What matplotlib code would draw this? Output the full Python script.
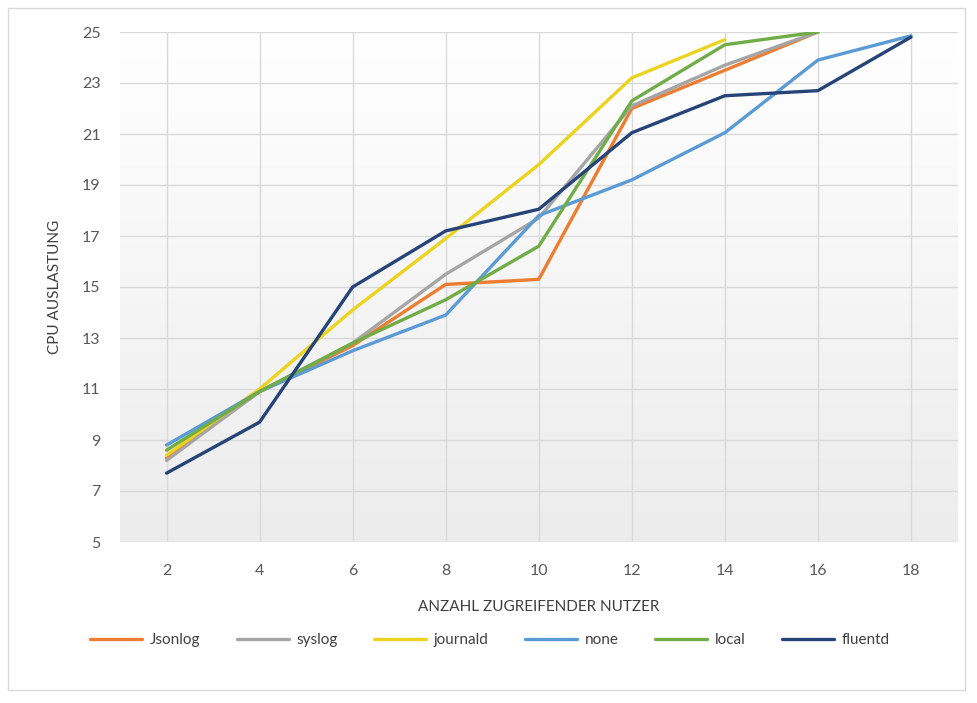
import numpy as np
import matplotlib
matplotlib.use("Agg")
import matplotlib.pyplot as plt
from matplotlib.patches import Rectangle

# Number of accessing users (categories on the x axis)
users = ["2", "4", "6", "8", "10", "12", "14", "16", "18"]

# CPU load per logging driver
jsonlog = [8.3, 10.9, 12.7, 15.1, 15.3, 22.0, 23.5, 25.0]
syslog = [8.2, 10.9, 12.8, 15.5, 17.7, 22.1, 23.7, 25.0]
journald = [8.4, 11.0, 14.1, 16.9, 19.8, 23.2, 24.7]
none = [8.8, 10.9, 12.5, 13.9, 17.8, 19.2, 21.05, 23.9, 24.85]
local = [8.6, 10.9, 12.8, 14.5, 16.6, 22.3, 24.5, 25.0]
fluentd = [7.7, 9.7, 15.0, 17.2, 18.05, 21.05, 22.5, 22.7, 24.8]

series_names = ["Jsonlog", "syslog", "journald", "none", "local", "fluentd"]
series_values = [jsonlog, syslog, journald, none, local, fluentd]
series_colors = ["#ED7D31", "#A5A5A5", "#EBD31F", "#5B9BD5", "#70AD47", "#264478"]

y_ticks = list(range(5, 26, 2))

plt.rcParams["font.family"] = ["Lato", "DejaVu Sans"]

W, H = 977, 703
fig = plt.figure(figsize=(W / 100, H / 100), dpi=100)
fig.patch.set_facecolor("white")

# outer chart border
fig.patches.append(Rectangle((8 / W, 1 - 690 / H), (965 - 8) / W, (690 - 8) / H,
                             transform=fig.transFigure, fill=False,
                             edgecolor="#D9D9D9", linewidth=1.0))

left, right, top, bottom = 120, 957.5, 32, 542
ax = fig.add_axes([left / W, 1 - bottom / H, (right - left) / W, (bottom - top) / H])

ax.set_xlim(-0.5, len(users) - 0.5)
ax.set_ylim(5, 25)

# vertical gradient fill of the plot area: white at the top, light grey at the bottom
grad = np.linspace(0, 1, 256).reshape(-1, 1)
top_c = np.array([1.0, 1.0, 1.0])
bot_c = np.array([0.925, 0.925, 0.925])
img = top_c + (bot_c - top_c) * grad
ax.imshow(img[:, None, :].repeat(2, axis=1), extent=[-0.5, len(users) - 0.5, 5, 25],
          origin="upper", aspect="auto", zorder=0, interpolation="bilinear")

# gridlines
for y in y_ticks:
    ax.axhline(y, color="#D9D9D9", linewidth=1.0, zorder=1)
for i in range(len(users)):
    ax.axvline(i, color="#D9D9D9", linewidth=1.0, zorder=1)

for name, vals, col in zip(series_names, series_values, series_colors):
    ax.plot(np.arange(len(vals)), vals, color=col, linewidth=2.4, label=name,
            zorder=3, solid_joinstyle="round", solid_capstyle="round")

for s in ax.spines.values():
    s.set_visible(False)

ax.set_xticks(range(len(users)))
ax.set_xticklabels(users)
ax.set_yticks(y_ticks)
ax.tick_params(axis="both", length=0, labelsize=11.5, colors="#595959")
ax.tick_params(axis="x", pad=16)
ax.tick_params(axis="y", pad=14)

ax.set_xlabel("ANZAHL ZUGREIFENDER NUTZER", fontsize=11, color="#404040", labelpad=16)
ax.set_ylabel("CPU AUSLASTUNG", fontsize=11, color="#404040", labelpad=14)

leg = fig.legend(loc="center", bbox_to_anchor=(490 / W, 1 - 640 / H), ncol=6,
                 frameon=False, fontsize=11, handlelength=3.4, columnspacing=2.4,
                 handletextpad=0.5)
for t in leg.get_texts():
    t.set_color("#404040")

fig.savefig("out.png", dpi=100)
